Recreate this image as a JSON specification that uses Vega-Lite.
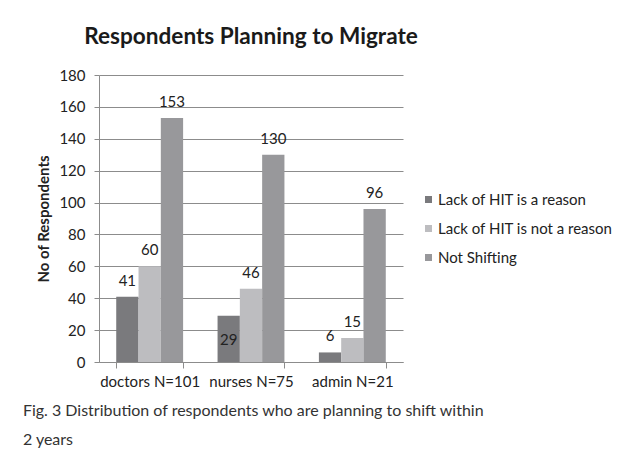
{
  "$schema": "https://vega.github.io/schema/vega-lite/v6.json",
  "padding": {"left": 22, "top": 26, "right": 5, "bottom": 5},
  "background": "white",
  "config": {
    "font": "Lato, sans-serif",
    "view": {"stroke": null},
    "axis": {"labelColor": "#222222", "titleColor": "#222222", "labelFontSize": 15, "domainColor": "#8c8c8c", "tickColor": "#8c8c8c", "gridColor": "#8c8c8c", "labelFont": "Lato, sans-serif", "titleFont": "Lato, sans-serif"}
  },
  "title": {
    "text": ["Fig. 3 Distribution of respondents who are planning to shift within", "2 years"],
    "orient": "bottom",
    "anchor": "start",
    "frame": "bounds",
    "fontSize": 16,
    "fontWeight": "normal",
    "color": "#333333",
    "lineHeight": 29,
    "offset": 14,
    "dx": -14,
    "font": "Lato, sans-serif"
  },
  "vconcat": [
    {
      "width": 304,
      "height": 287,
      "title": {
        "text": "Respondents Planning to Migrate",
        "fontSize": 22.6,
        "fontWeight": "bold",
        "color": "#1a1a1a",
        "anchor": "middle",
        "frame": "group",
        "offset": 19,
        "font": "Lato, sans-serif"
      },
      "data": {
        "values": [
          {"category": "doctors N=101", "series": "Lack of HIT is a reason", "value": 41},
          {"category": "doctors N=101", "series": "Lack of HIT is not a reason", "value": 60},
          {"category": "doctors N=101", "series": "Not Shifting", "value": 153},
          {"category": "nurses N=75", "series": "Lack of HIT is a reason", "value": 29},
          {"category": "nurses N=75", "series": "Lack of HIT is not a reason", "value": 46},
          {"category": "nurses N=75", "series": "Not Shifting", "value": 130},
          {"category": "admin N=21", "series": "Lack of HIT is a reason", "value": 6},
          {"category": "admin N=21", "series": "Lack of HIT is not a reason", "value": 15},
          {"category": "admin N=21", "series": "Not Shifting", "value": 96}
        ]
      },
      "encoding": {
        "x": {
          "field": "category", "type": "nominal", "sort": null,
          "scale": {"paddingInner": 0.34, "paddingOuter": 0.17},
          "axis": {"title": null, "labelAngle": 0, "labelFontSize": 15, "tickBand": "extent", "ticks": true, "tickSize": 6, "labelPadding": 6, "grid": false}
        },
        "xOffset": {"field": "series", "type": "nominal", "sort": null, "scale": {"paddingInner": 0, "paddingOuter": 0}},
        "y": {
          "field": "value", "type": "quantitative",
          "scale": {"domain": [0, 180], "nice": false},
          "axis": {"title": "No of Respondents", "titleFontSize": 15, "titleFontWeight": "bold", "values": [0, 20, 40, 60, 80, 100, 120, 140, 160, 180], "tickSize": 5, "labelPadding": 9, "titlePadding": 7, "grid": true}
        }
      },
      "layer": [
        {
          "mark": {"type": "bar"},
          "encoding": {
            "color": {
              "field": "series", "type": "nominal", "sort": null,
              "scale": {"domain": ["Lack of HIT is a reason", "Lack of HIT is not a reason", "Not Shifting"], "range": ["#7a7a7d", "#bdbdc0", "#98989b"]},
              "legend": {"title": null, "orient": "none", "legendX": 322, "legendY": 117, "symbolType": "square", "symbolSize": 49, "symbolStrokeWidth": 0, "labelFontSize": 15, "labelColor": "#222222", "labelLimit": 300, "rowPadding": 13, "labelOffset": 2, "labelFont": "Lato, sans-serif"}
            }
          }
        },
        {
          "transform": [{"filter": "!(datum.category == 'nurses N=75' && datum.series == 'Lack of HIT is a reason')"}],
          "mark": {"type": "text", "baseline": "middle", "dy": -16, "fontSize": 15, "color": "#222222"},
          "encoding": {"text": {"field": "value", "type": "quantitative"}}
        },
        {
          "transform": [{"filter": "datum.category == 'nurses N=75' && datum.series == 'Lack of HIT is a reason'"}],
          "mark": {"type": "text", "baseline": "middle", "dy": 24, "fontSize": 15, "color": "#222222"},
          "encoding": {"text": {"field": "value", "type": "quantitative"}}
        }
      ]
    }
  ]
}
